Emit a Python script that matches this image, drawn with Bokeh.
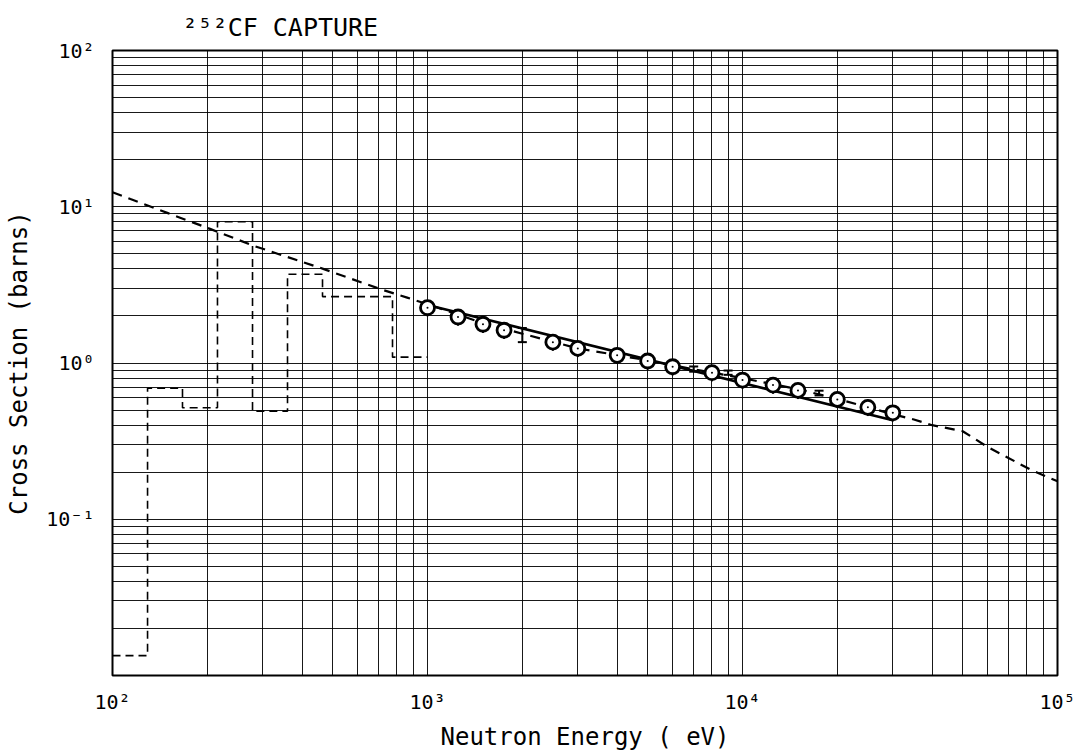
from bokeh.plotting import figure
from bokeh.models import FixedTicker, Whisker, ColumnDataSource, TeeHead
from bokeh.embed import file_html
from bokeh.resources import INLINE

# Multigroup structure below 1 keV: group boundaries (eV) and group cross sections (b)
group_edges = [100, 129.2, 166.8, 215.4, 278.3, 359.4, 464.2, 774.3, 1000]
group_xs = [0.0134, 0.689, 0.517, 8.01, 0.492, 3.70, 2.66, 1.09]

# Evaluated smooth capture cross section (dashed curve)
eval_energy = [100, 114, 150, 205, 281, 469, 709, 862, 1000, 1500, 2000, 3000, 5000,
               7000, 10000, 15000, 20000, 30000, 35000, 40000, 50000, 60000, 82000, 100000]
eval_xs = [12.4, 11.2, 9.1, 7.19, 5.62, 3.99, 2.97, 2.62, 2.38, 1.80, 1.54, 1.24, 1.04,
           0.91, 0.80, 0.68, 0.59, 0.47, 0.435, 0.40, 0.366, 0.29, 0.208, 0.175]

# Fitted line through the measured region (solid)
fit_energy = [1000, 30000]
fit_xs = [2.35, 0.43]

# Measured points (open circles)
meas_energy = [1000, 1250, 1500, 1750, 2500, 3000, 4000, 5000, 6000, 8000, 10000,
               12500, 15000, 20000, 25000, 30000]
meas_xs = [2.26, 1.97, 1.77, 1.62, 1.36, 1.24, 1.12, 1.03, 0.946, 0.867, 0.778,
           0.722, 0.668, 0.585, 0.520, 0.480]
meas_rel_err = [0.12, 0.12, 0.12, 0.12, 0.12, 0.12, 0.12, 0.12, 0.12, 0.12, 0.12,
                0.12, 0.12, 0.12, 0.12, 0.12]

# Additional points shown by error bars only
bar_energy = [2000, 7000, 9000, 17500]
bar_xs = [1.51, 0.915, 0.865, 0.645]
bar_low = [1.36, 0.88, 0.84, 0.62]
bar_high = [1.675, 0.95, 0.895, 0.665]

# Axis decades and their labels
x_decades = [100, 1000, 10000, 100000]
x_labels = ["10²", "10³", "10⁴", "10⁵"]
y_decades = [0.01, 0.1, 1, 10, 100]
y_labels = ["", "10⁻¹", "10⁰", "10¹", "10²"]

FONT = "DejaVu Sans Mono"

p = figure(width=1076, height=755, x_axis_type="log", y_axis_type="log",
           x_range=(100, 1e5), y_range=(0.01, 100),
           output_backend="svg", toolbar_location=None,
           min_border_left=112, min_border_right=19,
           min_border_top=50, min_border_bottom=80)
p.background_fill_color = "white"
p.border_fill_color = "white"
p.outline_line_color = "black"
p.outline_line_width = 2

# Title
p.title.text = "²⁵²CF CAPTURE"
p.title.align = "left"
p.title.offset = 70
p.title.standoff = 18
p.title.text_font = FONT
p.title.text_font_size = "25px"
p.title.text_font_style = "normal"
p.title.text_color = "black"

# Full logarithmic grid: 1..9 in every decade
grid_x = [m * 10 ** k for k in range(2, 5) for m in range(1, 10)] + [1e5]
grid_y = [m * 10.0 ** k for k in range(-2, 2) for m in range(1, 10)] + [100]
p.xgrid.ticker = FixedTicker(ticks=grid_x)
p.ygrid.ticker = FixedTicker(ticks=grid_y)
for g in (p.xgrid, p.ygrid):
    g.grid_line_color = "black"
    g.grid_line_width = 1
    g.grid_line_alpha = 0.9

# Axes
p.xaxis.ticker = FixedTicker(ticks=x_decades)
p.xaxis.major_label_overrides = {v: s for v, s in zip(x_decades, x_labels)}
p.yaxis.ticker = FixedTicker(ticks=y_decades)
p.yaxis.major_label_overrides = {v: s for v, s in zip(y_decades, y_labels)}
for ax in (p.xaxis, p.yaxis):
    ax.axis_line_color = None
    ax.major_tick_line_color = None
    ax.minor_tick_line_color = None
    ax.major_label_text_font = FONT
    ax.major_label_text_font_size = "20px"
    ax.major_label_text_color = "black"
    ax.axis_label_text_font = FONT
    ax.axis_label_text_font_style = "normal"
    ax.axis_label_text_color = "black"
p.xaxis.axis_label = "Neutron Energy ( eV)"
p.xaxis.axis_label_text_font_size = "24px"
p.xaxis.major_label_standoff = 8
p.xaxis.axis_label_standoff = 6
p.yaxis.axis_label = "Cross Section (barns)"
p.yaxis.axis_label_text_font_size = "24px"
p.yaxis.major_label_standoff = 12
p.yaxis.axis_label_standoff = 10

# Multigroup step histogram
step_x, step_y = [], []
for i, v in enumerate(group_xs):
    step_x += [group_edges[i], group_edges[i + 1]]
    step_y += [v, v]
p.line(step_x, step_y, line_color="black", line_width=1.6, line_dash="8 5")

# Evaluated curve
p.line(eval_energy, eval_xs, line_color="black", line_width=2.2, line_dash="10 7")

# Fitted line
p.line(fit_energy, fit_xs, line_color="black", line_width=2.6)

# Measured points with error bars
meas_lo = [v * (1 - e) for v, e in zip(meas_xs, meas_rel_err)]
meas_hi = [v * (1 + e) for v, e in zip(meas_xs, meas_rel_err)]
p.segment(meas_energy, meas_lo, meas_energy, meas_hi, line_color="black", line_width=2)
p.scatter(meas_energy, meas_xs, marker="circle", size=14, fill_color="white",
          line_color="black", line_width=2.8)
p.scatter(meas_energy, meas_xs, marker="dot", size=8, line_color="black")

bar_src = ColumnDataSource(data=dict(e=bar_energy, y=bar_xs, lo=bar_low, hi=bar_high))
p.add_layout(Whisker(source=bar_src, base="e", lower="lo", upper="hi",
                     line_color="black", line_width=2,
                     upper_head=TeeHead(size=9, line_color="black", line_width=2),
                     lower_head=TeeHead(size=9, line_color="black", line_width=2)))

open("out.html", "w").write(file_html(p, INLINE))
